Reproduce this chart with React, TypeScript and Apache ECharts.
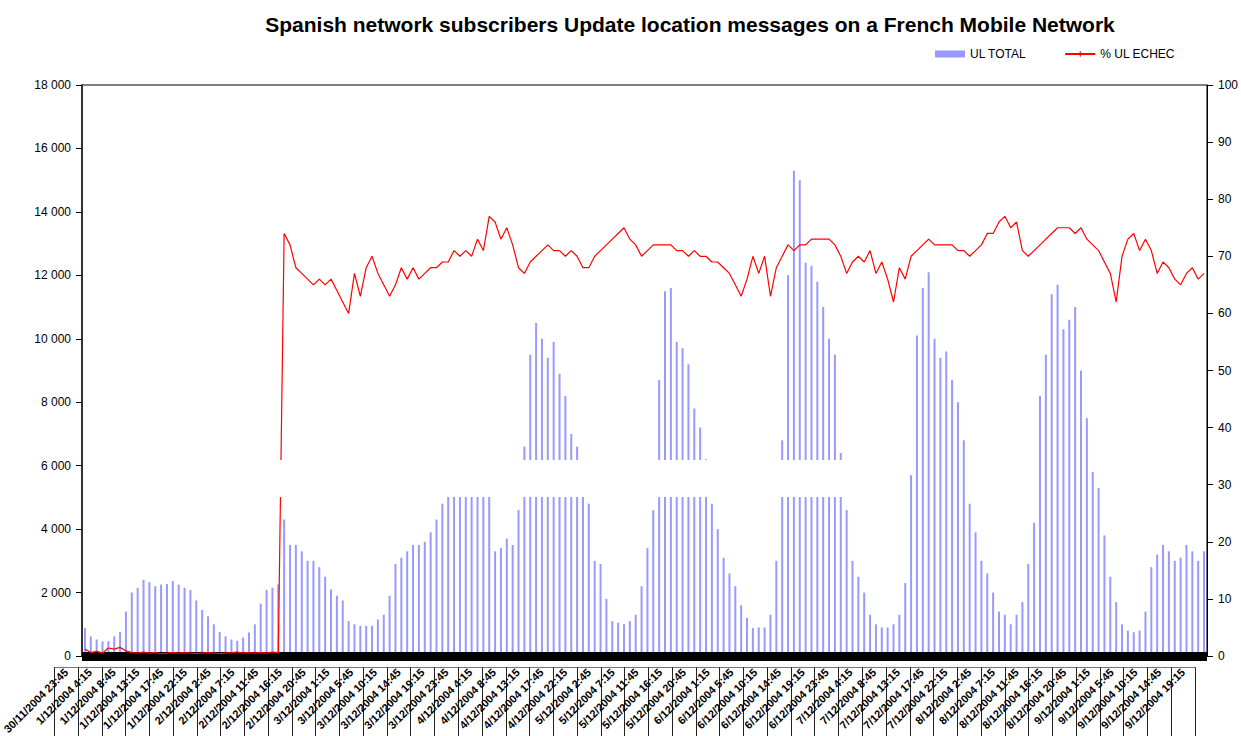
import React, { useEffect, useRef } from 'react';
import * as echarts from 'echarts';

const TITLE = 'Spanish network subscribers Update location messages on a French Mobile Network';

const TICK_LABELS = [
  '30/11/2004 23:45', '1/12/2004 4:15', '1/12/2004 8:45', '1/12/2004 13:15', '1/12/2004 17:45', '1/12/2004 22:15',
  '2/12/2004 2:45', '2/12/2004 7:15', '2/12/2004 11:45', '2/12/2004 16:15', '2/12/2004 20:45',
  '3/12/2004 1:15', '3/12/2004 5:45', '3/12/2004 10:15', '3/12/2004 14:45', '3/12/2004 19:15', '3/12/2004 23:45',
  '4/12/2004 4:15', '4/12/2004 8:45', '4/12/2004 13:15', '4/12/2004 17:45', '4/12/2004 22:15',
  '5/12/2004 2:45', '5/12/2004 7:15', '5/12/2004 11:45', '5/12/2004 16:15', '5/12/2004 20:45',
  '6/12/2004 1:15', '6/12/2004 5:45', '6/12/2004 10:15', '6/12/2004 14:45', '6/12/2004 19:15', '6/12/2004 23:45',
  '7/12/2004 4:15', '7/12/2004 8:45', '7/12/2004 13:15', '7/12/2004 17:45', '7/12/2004 22:15',
  '8/12/2004 2:45', '8/12/2004 7:15', '8/12/2004 11:45', '8/12/2004 16:15', '8/12/2004 20:45',
  '9/12/2004 1:15', '9/12/2004 5:45', '9/12/2004 10:15', '9/12/2004 14:45', '9/12/2004 19:15',
];

const UL_TOTAL = [
  880, 620, 520, 460, 470, 620, 760, 1400, 2000, 2150, 2400, 2330, 2200, 2250, 2270, 2360, 2250, 2150, 2080, 1750,
  1450, 1250, 1000, 760, 620, 520, 480, 580, 740, 1000, 1650, 2080, 2150, 2260,
  4300, 3500, 3500, 3300, 3000, 3000, 2800, 2500, 2100, 1900, 1750, 1100, 1000, 950, 950, 950, 1150, 1300, 1900, 2900,
  3100, 3300, 3500, 3500, 3600, 3900, 4300, 4800, 5200, 5600, 5900, 6100, 6000, 5800, 5600, 5200,
  3300, 3400, 3700, 3500, 4600, 6600, 9500, 10500, 10000, 9400, 9900, 8900, 8200, 7000, 6600, 5400, 4800, 3000, 2900, 1800,
  1100, 1050, 1000, 1100, 1300, 2200, 3400, 4600, 8700, 11500, 11600, 9900, 9700, 9200, 7800, 7200, 6200, 4800, 4000, 3100,
  2600, 2200, 1600, 1200, 880, 900, 900, 1300, 3000, 6800, 12000, 15300, 15000, 12400, 12300, 11800, 11000, 10000, 9500, 6400,
  4600, 3000, 2500, 2000, 1300, 1000, 900, 900, 1000, 1300, 2300, 5700, 10100, 11600, 12100, 10000, 9400, 9600, 8700, 8000,
  6800, 4800, 3900, 3000, 2600, 2000, 1400, 1300, 1000, 1300, 1700, 2900, 4200, 8200, 9500, 11400, 11700, 10300, 10600, 11000,
  9000, 7500, 5800, 5300, 3800, 2500, 1700, 1000, 800, 750, 800, 1400, 2800, 3200, 3500, 3300, 3000, 3100, 3500, 3300,
  3000, 3300,
];

const UL_ECHEC_PCT = [
  1.2, 0.6, 0.8, 0.5, 1.4, 1.2, 1.5, 0.9, 0.6, 0.5, 0.7, 0.5, 0.6, 0.4, 0.5, 0.6, 0.5, 0.6, 0.5, 0.4,
  0.5, 0.6, 0.5, 0.4, 0.5, 0.6, 0.7, 0.5, 0.6, 0.5, 0.6, 0.5, 0.7, 0.6,
  74, 72, 68, 67, 66, 65, 66, 65, 66, 64, 62, 60, 67, 63, 68, 70, 67, 65, 63, 65,
  68, 66, 68, 66, 67, 68, 68, 69, 69, 71, 70, 71, 70, 73, 71, 77,
  76, 73, 75, 72, 68, 67, 69, 70, 71, 72, 71, 71, 70, 71, 70, 68, 68, 70, 71, 72,
  73, 74, 75, 73, 72, 70, 71, 72, 72, 72, 72, 71, 71, 70, 71, 70, 70, 69, 69, 68,
  67, 65, 63, 66, 70, 67, 70, 63, 68, 70, 72, 71, 72, 72, 73, 73, 73, 73, 72, 70,
  67, 69, 70, 69, 71, 67, 69, 66, 62, 68, 66, 70, 71, 72, 73, 72, 72, 72, 72, 71,
  71, 70, 71, 72, 74, 74, 76, 77, 75, 76, 71, 70, 71, 72, 73, 74, 75, 75, 75, 74,
  75, 73, 72, 71, 69, 67, 62, 70, 73, 74, 71, 73, 71, 67, 69, 68, 66, 65, 67, 68,
  66, 67,
];

const CATEGORIES = UL_TOTAL.map((_, i) => String(i));

const FONT = "'Liberation Sans', Arial, sans-serif";
const PLUS = 'path://M2,0H3V2H5V3H3V5H2V3H0V2H2Z';

function fmtThousands(v: number): string {
  return String(v).replace(/\B(?=(\d{3})+(?!\d))/g, ' ');
}

export default function App() {
  const ref = useRef<HTMLDivElement>(null);
  useEffect(() => {
    if (!ref.current) return;
    const chart = echarts.init(ref.current, undefined, { renderer: 'svg' });
    chart.setOption({
      animation: false,
      backgroundColor: '#ffffff',
      title: {
        text: TITLE,
        left: 685,
        top: 9,
        textAlign: 'center',
        textStyle: { fontFamily: FONT, fontWeight: 'bold', fontSize: 21, color: '#000' },
      },
      legend: {
        left: 930,
        top: 43,
        itemWidth: 30,
        itemHeight: 7,
        itemGap: 38,
        textStyle: { fontFamily: FONT, fontSize: 12, color: '#000' },
        data: [{ name: 'UL TOTAL', icon: 'rect' }, { name: '% UL ECHEC' }],
      },
      grid: [
        { left: 82, right: 31, top: 85, bottom: 80, show: true, borderColor: '#000', borderWidth: 1, backgroundColor: 'transparent' },
        { left: 12, right: 46, top: 667, height: 1 },
      ],
      xAxis: [
        {
          type: 'category',
          gridIndex: 0,
          data: CATEGORIES,
          boundaryGap: true,
          z: 3,
          axisLine: { onZero: false, lineStyle: { color: '#000', width: 9, cap: 'butt' } },
          axisTick: { show: false },
          axisLabel: { show: false },
          splitLine: { show: false },
        },
        {
          type: 'category',
          gridIndex: 1,
          data: TICK_LABELS,
          position: 'bottom',
          axisLine: { show: true, onZero: false, lineStyle: { color: '#777', width: 1 } },
          axisTick: { show: true, interval: 0, length: 70, lineStyle: { color: '#222', width: 1 } },
          axisLabel: {
            show: true,
            interval: 0,
            rotate: 45,
            margin: 3,
            fontSize: 11,
            fontWeight: 'bold',
            fontFamily: FONT,
            color: '#000',
          },
        },
      ],
      yAxis: [
        {
          type: 'value',
          gridIndex: 0,
          min: 0,
          max: 18000,
          interval: 2000,
          axisLine: { show: true, lineStyle: { color: '#333', width: 2 } },
          axisTick: { show: true, length: 6, lineStyle: { color: '#000' } },
          axisLabel: { formatter: (v: number) => fmtThousands(v), fontSize: 12, fontFamily: FONT, margin: 11, color: '#000' },
          splitLine: { show: false },
        },
        {
          type: 'value',
          gridIndex: 0,
          position: 'right',
          min: 0,
          max: 100,
          interval: 10,
          axisLine: { show: true, lineStyle: { color: '#000', width: 1 } },
          axisTick: { show: true, length: 6, lineStyle: { color: '#000' } },
          axisLabel: { fontSize: 12, fontFamily: FONT, margin: 11, color: '#000' },
          splitLine: { show: false },
        },
        { type: 'value', gridIndex: 1, min: 0, max: 1, show: false },
      ],
      series: [
        {
          name: 'UL TOTAL',
          type: 'bar',
          xAxisIndex: 0,
          yAxisIndex: 0,
          data: UL_TOTAL,
          barWidth: 2,
          itemStyle: { color: '#9999ff' },
        },
        {
          name: '% UL ECHEC',
          type: 'line',
          xAxisIndex: 0,
          yAxisIndex: 1,
          data: UL_ECHEC_PCT,
          symbol: PLUS,
          symbolSize: 5,
          lineStyle: { color: '#ff0000', width: 1.2 },
          itemStyle: { color: '#ff0000' },
          z: 5,
        },
      ],
      graphic: [
        {
          type: 'rect',
          x: 83,
          y: 460,
          shape: { x: 0, y: 0, width: 770, height: 37 },
          style: { fill: '#ffffff' },
          z: 100,
        },
      ],
    });
    return () => chart.dispose();
  }, []);
  return <div ref={ref} style={{ position: 'fixed', left: 0, top: 0, width: 1241, height: 736 }} />;
}
